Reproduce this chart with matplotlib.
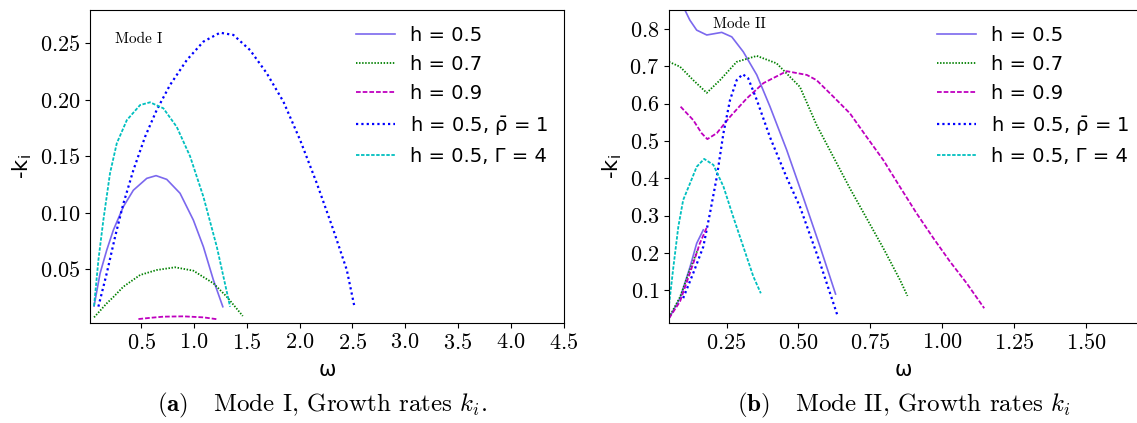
import numpy as np
import matplotlib
matplotlib.use("Agg")
import matplotlib.pyplot as plt

# ---------------- Mode I data (omega, -k_i) ----------------
m1_h05_w = [0.054, 0.111, 0.174, 0.237, 0.331, 0.426, 0.553, 0.641, 0.742, 0.868, 0.994, 1.089, 1.184, 1.273]
m1_h05_k = [0.0175, 0.0465, 0.067, 0.0848, 0.1054, 0.120, 0.1305, 0.1329, 0.1296, 0.1173, 0.0936, 0.070, 0.0405, 0.0169]

m1_h07_w = [0.054, 0.174, 0.237, 0.331, 0.49, 0.647, 0.821, 0.994, 1.184, 1.31, 1.462]
m1_h07_k = [0.0075, 0.0199, 0.0255, 0.0346, 0.045, 0.0494, 0.0518, 0.0488, 0.0376, 0.0258, 0.0087]

m1_h09_w = [0.474, 0.60, 0.71, 0.90, 1.089, 1.222]
m1_h09_k = [0.0060, 0.0072, 0.0081, 0.0084, 0.0075, 0.0058]

m1_rho_w = [0.095, 0.174, 0.253, 0.331, 0.426, 0.537, 0.647, 0.773, 0.932, 1.089, 1.247, 1.373, 1.531, 1.689, 1.847, 2.005, 2.163, 2.32, 2.447, 2.516]
m1_rho_k = [0.017, 0.0465, 0.0788, 0.108, 0.1377, 0.1673, 0.191, 0.2131, 0.2352, 0.2515, 0.2594, 0.2574, 0.244, 0.2235, 0.1983, 0.1644, 0.1261, 0.0848, 0.0494, 0.0184]

m1_gam_w = [0.054, 0.095, 0.142, 0.205, 0.269, 0.364, 0.490, 0.584, 0.710, 0.837, 0.963, 1.089, 1.216, 1.342]
m1_gam_k = [0.0175, 0.0582, 0.0936, 0.135, 0.1615, 0.182, 0.1954, 0.1978, 0.1925, 0.176, 0.150, 0.1143, 0.070, 0.0169]

# ---------------- Mode II data (omega, -k_i) ----------------
m2_h05_w = [0.06, 0.08, 0.105, 0.122, 0.146, 0.181, 0.233, 0.268, 0.308, 0.355, 0.401, 0.459, 0.517, 0.575, 0.629]
m2_h05_k = [0.92, 0.89, 0.851, 0.824, 0.797, 0.784, 0.791, 0.779, 0.739, 0.677, 0.592, 0.476, 0.348, 0.217, 0.090]
m2_h05_low_w = [0.0497, 0.088, 0.123, 0.146, 0.169]
m2_h05_low_k = [0.025, 0.079, 0.163, 0.226, 0.262]

m2_h07_w = [0.0497, 0.088, 0.134, 0.181, 0.227, 0.285, 0.355, 0.424, 0.505, 0.563, 0.621, 0.679, 0.737, 0.795, 0.853, 0.879]
m2_h07_k = [0.712, 0.699, 0.663, 0.629, 0.663, 0.712, 0.728, 0.708, 0.645, 0.543, 0.458, 0.373, 0.293, 0.213, 0.128, 0.085]
m2_h07_low_w = [0.0497, 0.088, 0.12, 0.15]
m2_h07_low_k = [0.027, 0.082, 0.15, 0.21]

m2_h09_w = [0.090, 0.134, 0.163, 0.183, 0.216, 0.262, 0.320, 0.378, 0.459, 0.529, 0.563, 0.621, 0.679, 0.737, 0.795, 0.853, 0.911, 0.969, 1.027, 1.085, 1.146]
m2_h09_k = [0.592, 0.556, 0.521, 0.505, 0.521, 0.565, 0.614, 0.655, 0.687, 0.677, 0.663, 0.619, 0.574, 0.511, 0.449, 0.377, 0.306, 0.240, 0.177, 0.119, 0.052]
m2_h09_low_w = [0.0497, 0.088, 0.134, 0.157, 0.183]
m2_h09_low_k = [0.025, 0.070, 0.172, 0.226, 0.272]

m2_rho_w = [0.099, 0.134, 0.169, 0.192, 0.216, 0.239, 0.262, 0.285, 0.306, 0.325, 0.355, 0.401, 0.459, 0.505, 0.572, 0.635]
m2_rho_k = [0.079, 0.146, 0.217, 0.306, 0.404, 0.521, 0.610, 0.663, 0.679, 0.668, 0.610, 0.510, 0.402, 0.324, 0.180, 0.034]

m2_gam_w = [0.0497, 0.065, 0.082, 0.099, 0.123, 0.146, 0.172, 0.204, 0.239, 0.273, 0.308, 0.343, 0.369]
m2_gam_k = [0.061, 0.163, 0.270, 0.342, 0.387, 0.431, 0.452, 0.436, 0.378, 0.297, 0.217, 0.137, 0.092]

labels = ["h = 0.5", "h = 0.7", "h = 0.9",
          r"h = 0.5, $\mathregular{\bar{\rho}}$ = 1", "h = 0.5, Γ = 4"]

plt.rcParams['font.family'] = 'cmr10'
plt.rcParams['mathtext.fontset'] = 'cm'
plt.rcParams['axes.formatter.use_mathtext'] = True

fig = plt.figure(figsize=(11.37, 4.23), dpi=100)
ax1 = fig.add_axes([0.0792, 0.2364, 0.417, 0.740])
ax2 = fig.add_axes([0.5884, 0.2364, 0.413, 0.740])

styles = [
    dict(color='mediumslateblue', ls='-', lw=1.2),
    dict(color='green', ls=(0, (0.8, 0.9)), lw=1.3),
    dict(color='m', ls=(0, (2.6, 1.1)), lw=1.3),
    dict(color='blue', ls=(0, (1.0, 1.4)), lw=1.6),
    dict(color='c', ls=(0, (1.9, 0.9)), lw=1.3),
]

def draw(ax, series, lows):
    for (w, k), st, lab in zip(series, styles, labels):
        ax.plot(w, k, label=lab, **st)
    for (w, k), idx in lows:
        ax.plot(w, k, label='_nolegend_', **styles[idx])

draw(ax1, [(m1_h05_w, m1_h05_k), (m1_h07_w, m1_h07_k), (m1_h09_w, m1_h09_k),
           (m1_rho_w, m1_rho_k), (m1_gam_w, m1_gam_k)], [])
draw(ax2, [(m2_h05_w, m2_h05_k), (m2_h07_w, m2_h07_k), (m2_h09_w, m2_h09_k),
           (m2_rho_w, m2_rho_k), (m2_gam_w, m2_gam_k)],
     [((m2_h05_low_w, m2_h05_low_k), 0), ((m2_h07_low_w, m2_h07_low_k), 1),
      ((m2_h09_low_w, m2_h09_low_k), 2)])

ax1.set_xlim(0.016, 4.505)
ax1.set_ylim(0.0025, 0.2795)
ax1.set_xticks([0.5, 1.0, 1.5, 2.0, 2.5, 3.0, 3.5, 4.0, 4.5])
ax1.set_yticks([0.05, 0.10, 0.15, 0.20, 0.25])

ax2.set_xlim(0.0497, 1.683)
ax2.set_ylim(0.0124, 0.851)
ax2.set_xticks([0.25, 0.50, 0.75, 1.00, 1.25, 1.50])
ax2.set_yticks([0.1, 0.2, 0.3, 0.4, 0.5, 0.6, 0.7, 0.8])

for ax, lx in [(ax1, 0.544), (ax2, 0.554)]:
    ax.tick_params(labelsize=16)
    ax.set_xlabel('ω', fontsize=15, family='DejaVu Sans', labelpad=5)
    ax.set_ylabel(r'-k$_\mathregular{i}$', fontsize=15, family='DejaVu Sans')
    leg = ax.legend(loc='upper left', bbox_to_anchor=(lx, 0.975), frameon=False,
                    prop={'family': 'DejaVu Sans', 'size': 14},
                    handlelength=2.0, labelspacing=0.53, borderaxespad=0.0)
    for t in leg.get_texts():
        t.set_math_fontfamily('dejavusans')

ax1.text(0.0527, 0.906, 'Mode I', transform=ax1.transAxes, fontsize=11, va='center')
ax2.text(0.0935, 0.955, 'Mode II', transform=ax2.transAxes, fontsize=11, va='center')

fig.text(157 / 1137, 0.0267, r'$\mathbf{(a)}$   Mode I, Growth rates $k_i$.', ha='left', va='baseline', fontsize=18)
fig.text(737 / 1137, 0.0267, r'$\mathbf{(b)}$   Mode II, Growth rates $k_i$', ha='left', va='baseline', fontsize=18)

fig.savefig('out.png', dpi=100)
